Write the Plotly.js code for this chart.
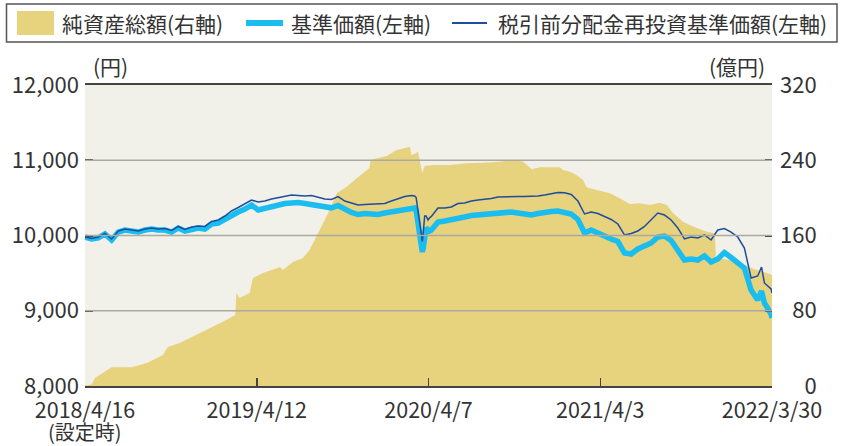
<!DOCTYPE html>
<html>
<head>
<meta charset="utf-8">
<script src="https://cdn.plot.ly/plotly-3.0.1.min.js"></script>
<style>html,body{margin:0;padding:0;background:#fff;}#chart{width:841px;height:446px;}</style>
</head>
<body>
<div id="chart"></div>
<script>
// ---- data ----
const lineDates = [
'2018-04-16','2018-04-30','2018-05-14','2018-05-28','2018-06-11','2018-06-25','2018-07-09','2018-07-23','2018-08-06','2018-08-20',
'2018-09-03','2018-09-17','2018-10-01','2018-10-15','2018-10-29','2018-11-12','2018-11-26','2018-12-10','2018-12-24','2019-01-07',
'2019-01-21','2019-02-04','2019-02-18','2019-03-04','2019-03-18','2019-04-01','2019-04-15','2019-04-29','2019-05-13','2019-05-27',
'2019-06-10','2019-06-24','2019-07-08','2019-07-22','2019-08-05','2019-08-19','2019-09-02','2019-09-16','2019-09-30','2019-10-14',
'2019-10-28','2019-11-11','2019-11-25','2019-12-09','2019-12-23','2020-01-06','2020-01-20','2020-02-03','2020-02-17','2020-03-02',
'2020-03-09','2020-03-12','2020-03-16','2020-03-19','2020-03-23','2020-03-25','2020-03-27','2020-03-30','2020-04-02','2020-04-06','2020-04-09',
'2020-04-13','2020-04-27','2020-05-11','2020-05-25','2020-06-08','2020-06-22','2020-07-06','2020-07-20','2020-08-03','2020-08-17',
'2020-08-31','2020-09-14','2020-09-28','2020-10-12','2020-10-26','2020-11-09','2020-11-23','2020-12-07','2020-12-21','2021-01-04',
'2021-01-18','2021-02-01','2021-02-15','2021-03-01','2021-03-15','2021-03-29','2021-04-12','2021-04-26','2021-05-10','2021-05-24',
'2021-06-07','2021-06-21','2021-07-05','2021-07-19','2021-08-02','2021-08-16','2021-08-30','2021-09-13','2021-09-27','2021-10-11',
'2021-10-25','2021-11-08','2021-11-22','2021-12-06','2021-12-20','2022-01-03','2022-01-17','2022-01-31','2022-02-14','2022-02-28',
'2022-03-08','2022-03-14','2022-03-28','2022-03-30'
];
// 基準価額 (円)
const basePrice = [
9980,9954,9967,10020,9940,10046,10073,10060,10046,10073,
10086,10073,10073,10046,10100,10060,10086,10100,10086,10153,
10166,10219,10272,10312,10352,10405,10339,10365,10385,10399,
10425,10432,10439,10425,10412,10405,10385,10368,10399,10346,
10306,10279,10292,10286,10279,10299,10312,10332,10346,10359,
10365,10339,10140,9993,9807,9781,9834,9967,10100,10073,10060,
10073,10179,10193,10206,10226,10246,10266,10272,10286,10286,
10299,10306,10312,10299,10292,10272,10292,10312,10319,10326,
10312,10286,10213,10033,10073,10040,9993,9954,9920,9767,
9754,9821,9867,9900,9980,9993,9934,9807,9674,9688,
9674,9728,9648,9688,9774,9708,9648,9568,9276,9143,
9262,9103,8957,8904
];
// 税引前分配金再投資基準価額 (円)
const reinvestPrice = [
9980,9960,9980,10027,9954,10060,10086,10073,10060,10086,
10100,10086,10093,10066,10120,10080,10113,10126,10120,10186,
10206,10259,10326,10372,10425,10472,10445,10458,10485,10505,
10516,10538,10532,10525,10532,10512,10485,10478,10518,10458,
10432,10405,10412,10419,10419,10425,10458,10492,10518,10532,
10525,10505,10312,10140,9967,9920,10046,10259,10259,10206,10233,
10253,10365,10365,10379,10425,10432,10458,10472,10478,10492,
10512,10516,10521,10518,10518,10518,10525,10538,10552,10571,
10569,10545,10458,10286,10312,10292,10253,10213,10153,10007,
10027,10060,10120,10213,10299,10272,10206,10100,9954,9980,
9967,10007,9940,10073,10093,10046,9980,9834,9435,9462,
9581,9369,9289,9236
];
// 純資産総額 (億円)
const assetDates = [
'2018-04-16','2018-04-30','2018-05-07','2018-05-31','2018-06-11','2018-07-23','2018-08-24','2018-09-27','2018-10-07','2018-11-01','2018-12-06',
'2019-01-10','2019-02-07','2019-02-26','2019-02-28','2019-03-07','2019-03-28','2019-04-04','2019-04-25','2019-05-31','2019-06-06',
'2019-06-27','2019-07-18','2019-08-01','2019-08-22','2019-09-09','2019-09-27','2019-10-18','2019-11-08','2019-11-29','2019-12-05',
'2019-12-07','2019-12-20','2020-01-10','2020-01-31','2020-02-14','2020-02-28','2020-03-02','2020-03-09','2020-03-16','2020-03-25',
'2020-03-30','2020-04-17','2020-05-22','2020-06-26','2020-07-31','2020-09-04','2020-10-02','2020-10-23','2020-11-10','2020-11-27',
'2021-01-08','2021-01-15','2021-01-29','2021-02-12','2021-02-26','2021-03-05','2021-03-26','2021-04-23','2021-05-14','2021-06-04',
'2021-06-25','2021-07-16','2021-08-06','2021-08-21','2021-09-03','2021-09-24','2021-10-16','2021-11-13','2021-11-30','2021-12-02',
'2022-01-01','2022-02-05','2022-02-26','2022-03-12','2022-03-30'
];
const netAssets = [
0.5,1.5,8.5,17,20,20,24.5,33,41.5,45.7,54.2,
62.7,70.2,75.6,98.9,93.6,98.9,114.8,120.1,126.5,123.3,
131.8,136.1,144.6,165.8,183.6,204.9,211.9,220.8,229.6,231.8,
240.3,242.1,244.5,250.9,252.7,254.4,245.6,246.6,249.1,226.1,
233.9,234.9,234.9,236.8,237.4,238.5,240.3,238.5,230.4,232.5,
232.5,229.6,227.8,224.3,219,211.2,208.4,204.9,199.5,193.5,
194.2,192.4,194.9,192.4,183.9,174.7,169.4,164,162.3,136.1,
134,126.8,123.3,121.5,118
];
const seriesNames = ['純資産総額(右軸)', '基準価額(左軸)', '税引前分配金再投資基準価額(左軸)'];
const xTickDates = ['2018-04-16','2019-04-12','2020-04-07','2021-04-03','2022-03-30'];
const xTickLabels = ['2018/4/16','2019/4/12','2020/4/7','2021/4/3','2022/3/30'];
const firstTickNote = '(設定時)';
const leftTicks = [8000, 9000, 10000, 11000, 12000];
const leftTickLabels = ['8,000','9,000','10,000','11,000','12,000'];
const rightTicks = [0, 80, 160, 240, 320];
const rightTickLabels = ['\u2007\u20070','\u200780','160','240','320'];
const gridValuesRight = [80, 160, 240];
const unitLeft = '(円)';
const unitRight = '(億円)';

// ---- styles ----
const FONT = '"Liberation Sans Narrow", "Noto Sans CJK JP", sans-serif';
const GOLD = '#e7d27d';
const CYAN = '#19bdf0';
const NAVY = '#1d4e9e';
const TXT = '#333';

const traces = [
  {x: assetDates, y: netAssets, type: 'scatter', mode: 'lines', fill: 'tozeroy',
   fillcolor: GOLD, line: {width: 0, color: GOLD}, yaxis: 'y', name: seriesNames[0], hoverinfo: 'skip'},
  {x: lineDates, y: basePrice, type: 'scatter', mode: 'lines',
   line: {color: CYAN, width: 5.5}, yaxis: 'y2', name: seriesNames[1]},
  {x: lineDates, y: reinvestPrice, type: 'scatter', mode: 'lines',
   line: {color: NAVY, width: 1.5}, yaxis: 'y2', name: seriesNames[2]}
];

// pixel helpers for legend decoration (paper coords)
const PX = x => (x - 85) / 687;
const PY = y => (386 - y) / 301;

const shapes = gridValuesRight.map(v => ({
  type: 'line', xref: 'paper', x0: 0, x1: 1, yref: 'y', y0: v, y1: v,
  line: {color: '#aaa9a2', width: 1.5}, layer: 'above'
}));
shapes.push({type: 'rect', xref: 'paper', yref: 'paper', x0: PX(6.5), x1: PX(837), y0: PY(42), y1: PY(4),
  line: {color: '#555', width: 1.5}, fillcolor: 'rgba(0,0,0,0)'});
shapes.push({type: 'rect', xref: 'paper', yref: 'paper', x0: PX(17), x1: PX(54), y0: PY(35), y1: PY(11),
  line: {width: 0}, fillcolor: GOLD});
shapes.push({type: 'line', xref: 'paper', yref: 'paper', x0: PX(246), x1: PX(283), y0: PY(23), y1: PY(23),
  line: {color: CYAN, width: 6}});
shapes.push({type: 'line', xref: 'paper', yref: 'paper', x0: PX(452), x1: PX(487), y0: PY(23), y1: PY(23),
  line: {color: NAVY, width: 2}});

const legFont = {family: FONT, size: 21, color: TXT};
const annotations = [
  {text: seriesNames[0], xref: 'paper', yref: 'paper', x: PX(60), y: PY(23), xanchor: 'left', yanchor: 'middle', showarrow: false, font: legFont},
  {text: seriesNames[1], xref: 'paper', yref: 'paper', x: PX(289), y: PY(23), xanchor: 'left', yanchor: 'middle', showarrow: false, font: legFont},
  {text: seriesNames[2], xref: 'paper', yref: 'paper', x: PX(496), y: PY(23), xanchor: 'left', yanchor: 'middle', showarrow: false, font: legFont},
  {text: unitLeft, xref: 'paper', yref: 'paper', x: PX(91), y: PY(66), xanchor: 'left', yanchor: 'middle', showarrow: false, font: {family: FONT, size: 21, color: TXT}},
  {text: unitRight, xref: 'paper', yref: 'paper', x: PX(767), y: PY(66), xanchor: 'right', yanchor: 'middle', showarrow: false, font: {family: FONT, size: 21, color: TXT}},
  {text: firstTickNote, xref: 'paper', yref: 'paper', x: PX(85), y: PY(432), xanchor: 'center', yanchor: 'middle', showarrow: false, font: {family: FONT, size: 20, color: TXT}, borderpad: 0}
];

const tickFont = {family: FONT, size: 22, color: TXT};
const layout = {
  width: 841, height: 446,
  margin: {l: 85, r: 69, t: 85, b: 60, pad: 0},
  paper_bgcolor: '#ffffff', plot_bgcolor: '#f1f0e9',
  showlegend: false,
  font: {family: FONT, size: 22, color: TXT},
  xaxis: {
    type: 'date', range: [xTickDates[0], xTickDates[4]],
    tickmode: 'array', tickvals: xTickDates, ticktext: xTickLabels,
    ticks: 'inside', ticklen: 8, tickwidth: 1.5, tickcolor: '#444',
    showgrid: false, zeroline: false, showline: true, mirror: true,
    linecolor: '#444', linewidth: 2, tickfont: {family: FONT, size: 21.5, color: TXT}, ticklabelstandoff: 4
  },
  yaxis: {
    range: [0, 320], side: 'right', tickmode: 'array', tickvals: rightTicks, ticktext: rightTickLabels,
    ticks: 'inside', ticklen: 7, tickwidth: 2, tickcolor: '#333',
    showgrid: false, zeroline: false, showline: false, ticklabelstandoff: 7,
    tickfont: tickFont
  },
  yaxis2: {
    overlaying: 'y', side: 'left', range: [8000, 12000], tickmode: 'array',
    tickvals: leftTicks, ticktext: leftTickLabels,
    ticks: 'inside', ticklen: 8, tickwidth: 2, tickcolor: '#333',
    showgrid: false, zeroline: false, showline: false, ticklabelstandoff: 5,
    tickfont: tickFont
  },
  shapes: shapes,
  annotations: annotations
};

Plotly.newPlot('chart', traces, layout, {staticPlot: true, displayModeBar: false});
</script>
</body>
</html>
